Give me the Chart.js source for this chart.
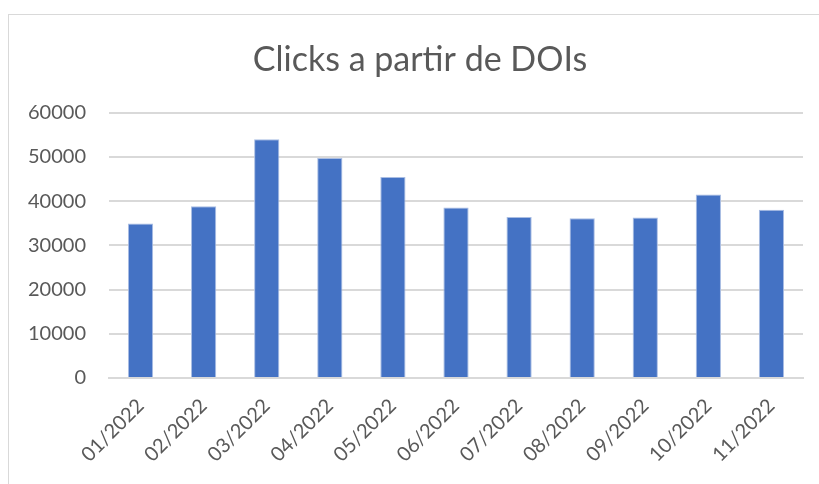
<!DOCTYPE html>
<html>
<head>
<meta charset="utf-8">
<script src="https://cdn.jsdelivr.net/npm/chart.js@4"></script>
<style>
  body { margin: 0; background: #fff; overflow: hidden; width: 819px; height: 484px; }
  #box { position: absolute; left: 8px; top: 14px; width: 822px; height: 480px; border: 1px solid #d9d9d9; }
  #box canvas { display: block; }
</style>
</head>
<body>
<div id="box"><canvas id="chart" width="822" height="470"></canvas></div>
<script>
const months = ['01/2022', '02/2022', '03/2022', '04/2022', '05/2022', '06/2022',
                '07/2022', '08/2022', '09/2022', '10/2022', '11/2022'];
const clicks = [34950, 38850, 54000, 49770, 45480, 38550, 36450, 36150, 36300, 41500, 38050];
const yTicks = [0, 10000, 20000, 30000, 40000, 50000, 60000];

const grey = '#595959';

new Chart(document.getElementById('chart'), {
  type: 'bar',
  data: {
    labels: months,
    datasets: [{
      label: 'Clicks',
      data: clicks,
      backgroundColor: '#4472C4',
      borderColor: '#a9bde3',
      borderWidth: 1,
      barPercentage: 0.4,
      categoryPercentage: 1
    }]
  },
  options: {
    responsive: false,
    animation: false,
    layout: { padding: 0 },
    plugins: {
      legend: { display: false },
      tooltip: { enabled: false },
      title: {
        display: true,
        text: 'Clicks a partir de DOIs',
        color: grey,
        font: { family: 'Lato', size: 34, weight: 'normal' },
        padding: { top: 25, bottom: 32 }
      }
    },
    scales: {
      x: {
        grid: { display: false },
        border: { color: '#d9d9d9', width: 2 },
        ticks: {
          color: grey,
          font: { family: 'Lato', size: 20 },
          minRotation: 45,
          maxRotation: 45,
          padding: 8
        },
        afterFit: function (scale) { scale.height = 107; }
      },
      y: {
        min: 0,
        max: 60000,
        afterBuildTicks: function (scale) { scale.ticks = yTicks.map(v => ({ value: v })); },
        grid: { color: '#d9d9d9', lineWidth: 2, drawTicks: false },
        border: { display: false },
        ticks: {
          color: grey,
          font: { family: 'Lato', size: 20 },
          padding: 23,
          callback: function (value) { return String(value); }
        },
        afterFit: function (scale) { scale.width = 100; }
      },
      // empty right margin so the title stays centred on the whole frame
      spacer: {
        type: 'linear',
        position: 'right',
        display: true,
        grid: { display: false },
        border: { display: false },
        ticks: { display: false },
        afterFit: function (scale) { scale.width = 28; }
      }
    }
  }
});
</script>
</body>
</html>
